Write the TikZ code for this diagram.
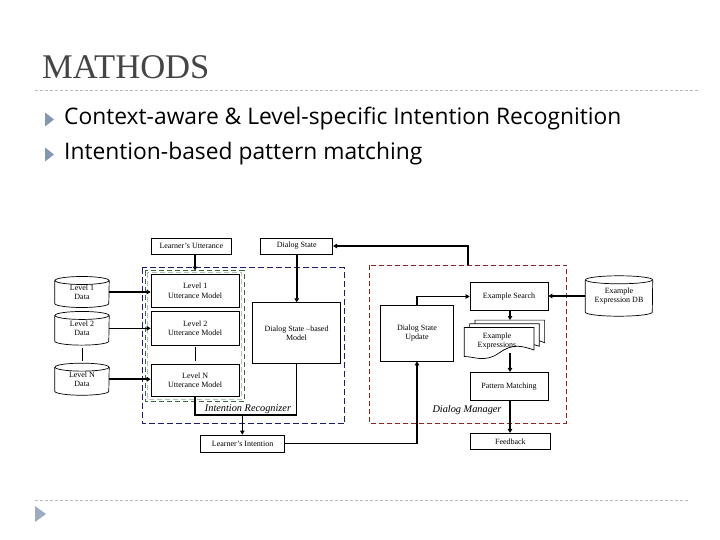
\documentclass[tikz,border=0pt]{standalone}
\usepackage{fontspec}
\setmainfont{Liberation Serif}
\newfontfamily\bulletfont{Open Sans}
\usetikzlibrary{arrows.meta,calc}
\definecolor{titlegray}{HTML}{454545}
\definecolor{bulletblue}{HTML}{8497B0}
\definecolor{lightline}{HTML}{B4BEC8}
\definecolor{navy}{HTML}{1C1C6A}
\definecolor{darkred}{HTML}{8A2424}
\definecolor{dgreen}{HTML}{3A6A3A}
\newcommand\drawcyl[2]{%
  \draw[cylline] ([yshift=-4pt]#1.north west) -- ([yshift=4pt]#1.south west)
     arc[start angle=180,end angle=360,x radius=#2,y radius=4pt]
     -- ([yshift=-4pt]#1.north east);
  \draw[cylline] ([yshift=-4pt]#1.north) ellipse [x radius=#2,y radius=4pt];
}
\newcommand\drawdoc[2]{%
  \draw[docline] (#1,#2) -- ++(69.7,0) -- ++(0,22.5)
     .. controls +(-12,-4) and +(14,-10) .. ++(-35,3)
     .. controls +(-14,10) and +(10,0) .. ++(-34.7,3.5) -- cycle;
}
\begin{document}
\begin{tikzpicture}[x=1pt,y=-1pt,
  box/.style={draw=black, line width=0.7pt, fill=white, inner sep=1pt, align=center,
              font=\fontsize{8}{9.4}\selectfont},
  cyl/.style={draw=none, inner sep=1pt, align=center, font=\fontsize{8}{9.4}\selectfont},
  cylline/.style={line width=0.7pt},
  docline/.style={line width=0.7pt, fill=white},
  conn/.style={line width=1.6pt, -{Triangle[length=4pt,width=4.5pt]}},
  thickline/.style={line width=1.6pt},
  thinline/.style={line width=0.7pt},
  lbl/.style={font=\itshape\fontsize{10.3}{12}\selectfont, inner sep=0pt},
  titleline/.style={lightline, line width=0.6pt, dash pattern=on 3pt off 2pt}]
\useasboundingbox[fill=white] (0,0) rectangle (720,540);

% header
\node[anchor=base west, inner sep=0pt, text=titlegray, font=\fontsize{34.6}{38}\selectfont] (title) at (42,78.5) {MATHODS};
\draw[titleline] (35,90) -- (700,90);
\fill[bulletblue] (45,112.5) -- (54,119.5) -- (45,126.5) -- cycle;
\node[anchor=base west, inner sep=0pt, font=\bulletfont\fontsize{22.8}{26}\selectfont] (b1) at (64,125) {Context-aware \& Level-specific Intention Recognition};
\fill[bulletblue] (45,147.5) -- (54,154.5) -- (45,161.5) -- cycle;
\node[anchor=base west, inner sep=0pt, font=\bulletfont\fontsize{22.8}{26}\selectfont] (b2) at (64,160) {Intention-based pattern matching};
\draw[titleline] (35,500) -- (690,500);
\fill[bulletblue!80] (35,506) -- (46,514) -- (35,522) -- cycle;

% containers
\draw[navy, line width=0.8pt, dash pattern=on 6pt off 3pt] (142.3,267.7) rectangle (344.5,423.5);
\draw[darkred, line width=0.7pt, dash pattern=on 5pt off 3pt] (369.3,265) rectangle (566.7,423);
\draw[dgreen, line width=0.8pt, dash pattern=on 5pt off 3pt] (145,270.5) rectangle (244,401);
\draw[dgreen!40, line width=0.5pt, dash pattern=on 5pt off 3pt] (147.3,272.5) rectangle (241.7,399);

% top inputs
\node[box, minimum width=79.3pt, minimum height=15.7pt] (LU) at (191.3,246.2) {Learner's Utterance};
\node[box, minimum width=72pt, minimum height=16pt] (DS) at (296.7,246) {Dialog State};

% utterance models
\node[box, minimum width=88.3pt, minimum height=33pt] (L1M) at (195.2,290.8) {Level 1\\Utterance Model};
\node[box, minimum width=88.3pt, minimum height=33.3pt] (L2M) at (195.2,328.3) {Level 2\\Utterance Model};
\node[box, minimum width=88.3pt, minimum height=32pt] (LNM) at (195.2,380) {Level N\\Utterance Model};

% data cylinders
\node[cyl, minimum width=54pt, minimum height=30.6pt] (L1D) at (82,292) {Level 1\\Data};
\node[cyl, minimum width=54pt, minimum height=33.3pt] (L2D) at (82,328.3) {Level 2\\Data};
\node[cyl, minimum width=54pt, minimum height=31.7pt] (LND) at (82,379.2) {Level N\\Data};
\drawcyl{L1D}{27pt}
\drawcyl{L2D}{27pt}
\drawcyl{LND}{27pt}

\node[box, minimum width=88.4pt, minimum height=60.6pt] (DSM) at (296.5,333) {Dialog State --based\\Model};
\node[box, minimum width=84pt, minimum height=17pt] (LI) at (242.6,443.5) {Learner's Intention};

% dialog manager
\node[box, minimum width=72.6pt, minimum height=56pt] (DSU) at (417,333) {Dialog State\\Update};
\node[box, minimum width=78pt, minimum height=28pt] (ES) at (509,296.5) {Example Search};
\node[box, minimum width=78pt, minimum height=28.4pt] (PM) at (509,386.5) {Pattern Matching};
\node[box, minimum width=80pt, minimum height=16pt] (FB) at (510.4,441.3) {Feedback};
\node[cyl, minimum width=67pt, minimum height=40pt] (EDB) at (619,296) {Example\\Expression DB};
\drawcyl{EDB}{33.5pt}

% stacked documents
\drawdoc{474.9}{320.1}
\drawdoc{469.6}{323.8}
\drawdoc{464.3}{327.5}
\node[cyl] (EE) at (497,341) {Example\\Expressions};

% labels
\node[lbl] (IRlab) at (248,409.5) {Intention Recognizer};
\node[lbl] (DMlab) at (467,410) {Dialog Manager};

% coordinates
\coordinate (gtop) at (195,270.5);
\coordinate (jn) at (242.3,415);
\coordinate (rtop) at (467.7,265);
\coordinate (eetop) at (510,320);
\coordinate (eebot) at (510,353);

% connectors
\draw[conn] (L1D.east) -- (L1D.east -| L1M.west);
\draw[conn] (L2D.east) -- (L2D.east -| L2M.west);
\draw[conn] (LND.east) -- (LND.east -| LNM.west);
\draw[thinline] ([yshift=-2.5pt]L2D.south) -- ([yshift=2pt]LND.north);
\draw[thinline] ([yshift=-2pt]L2M.south) -- ([yshift=3pt]LNM.north);
\draw[conn] (LU.south -| gtop) -- (gtop);
\draw[conn] (DS.south) -- (DS.south |- DSM.north);
\draw[thickline] (LNM.south) -- (LNM.south |- jn) -- (DSM.south |- jn) -- (DSM.south);
\draw[conn] (jn) -- (jn |- LI.north);
\draw[conn] (LI.east) -| (DSU.south);
\draw[conn] (DSU.north) |- (ES.west);
\draw[conn] (EDB.west) -- (EDB.west -| ES.east);
\draw[conn] (rtop) |- (DS.east);
\draw[conn] (ES.south -| eetop) -- (eetop);
\draw[conn] (eebot) -- (eebot |- PM.north);
\draw[conn] (PM.south -| eebot) -- (eebot |- FB.north);
\end{tikzpicture}
\end{document}
